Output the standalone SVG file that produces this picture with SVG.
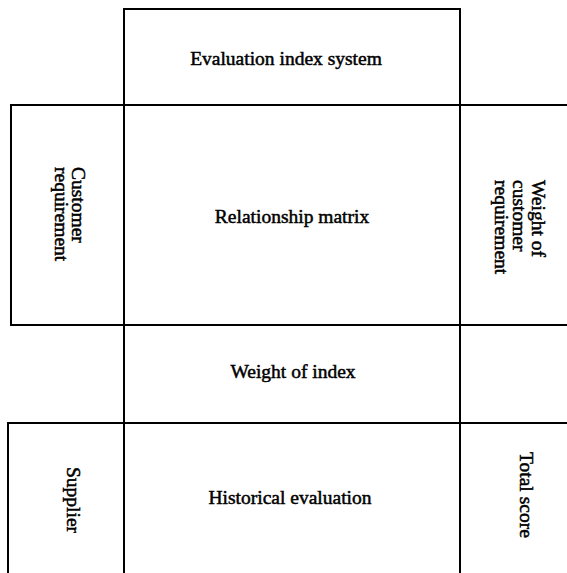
<svg xmlns="http://www.w3.org/2000/svg" width="567" height="573" viewBox="0 0 567 573">
<style>
.cell{fill:none;stroke:#000;stroke-width:2}
.t{font-family:"Liberation Serif","Times New Roman",serif;font-size:19.5px;fill:#000;stroke:#000;stroke-width:0.5}
.c{text-anchor:middle}
</style>
<rect width="567" height="573" fill="#fff"/>
<g id="connectors"/>
<g id="evaluation-index-system">
<rect class="cell" x="124" y="9" width="336" height="96"/>
<text class="t c" x="286" y="65">Evaluation index system</text>
</g>
<g id="customer-requirement">
<rect class="cell" x="11" y="105" width="113" height="220"/>
<text class="t" transform="translate(72,167) rotate(90)"><tspan x="0" y="0">Customer</tspan><tspan x="0" y="17">requirement</tspan></text>
</g>
<g id="relationship-matrix">
<rect class="cell" x="124" y="105" width="336" height="220"/>
<text class="t c" x="292" y="223">Relationship matrix</text>
</g>
<g id="weight-of-customer-requirement">
<rect class="cell" x="460" y="105" width="120" height="220"/>
<text class="t" transform="translate(532,180) rotate(90)"><tspan x="0" y="0">Weight of</tspan><tspan x="0" y="19">customer</tspan><tspan x="0" y="37">requirement</tspan></text>
</g>
<g id="weight-of-index">
<rect class="cell" x="124" y="325" width="336" height="98"/>
<text class="t c" x="293" y="378">Weight of index</text>
</g>
<g id="supplier">
<rect class="cell" x="8" y="423" width="116" height="160"/>
<text class="t" transform="translate(67,467) rotate(90)">Supplier</text>
</g>
<g id="historical-evaluation">
<rect class="cell" x="124" y="423" width="336" height="160"/>
<text class="t c" x="290" y="504">Historical evaluation</text>
</g>
<g id="total-score">
<rect class="cell" x="460" y="423" width="120" height="160"/>
<text class="t" transform="translate(520,452) rotate(90)">Total score</text>
</g>
</svg>
